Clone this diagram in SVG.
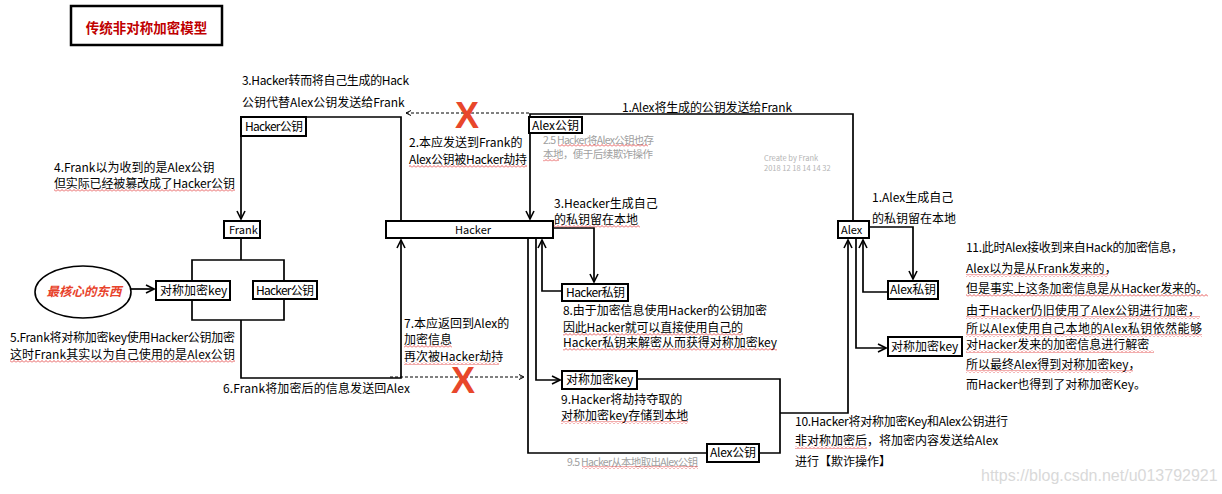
<svg xmlns="http://www.w3.org/2000/svg" width="1222" height="494" viewBox="0 0 1222 494">
<defs>
<style>
text{font-family:"Noto Sans CJK SC","Noto Sans",sans-serif;font-size:12px;fill:#000}
.s{font-size:11px}
.g{fill:#a0a0a0;font-size:10.5px}
.cb{fill:#b4b4b4;font-size:7.5px}
.title{font-size:13.5px;font-weight:bold;fill:#c00000}
.core{font-size:12.5px;font-weight:bold;font-style:italic;fill:#e8432c}
.x{font-family:"Liberation Sans",Arial,sans-serif;font-size:36px;font-weight:bold;fill:#e8472b}
.wm{font-family:"Liberation Sans",Arial,sans-serif;font-size:16px;fill:#d9d9d9}
.box{fill:#fff;stroke:#000;stroke-width:2}
.ln{fill:none;stroke:#000;stroke-width:1.7}
.dash{fill:none;stroke:#000;stroke-width:1;stroke-dasharray:3 2}
.sq{fill:url(#sq)}
</style>
<marker id="ah" markerWidth="10" markerHeight="10" refX="9" refY="5" orient="auto" markerUnits="userSpaceOnUse">
<path d="M1,1 L9,5 L1,9" fill="none" stroke="#000" stroke-width="1.6"/>
</marker>
<marker id="ahs" markerWidth="8" markerHeight="8" refX="6" refY="4" orient="auto" markerUnits="userSpaceOnUse">
<path d="M1,1.5 L6,4 L1,6.5" fill="none" stroke="#000" stroke-width="1"/>
</marker>
<pattern id="sq" width="4" height="3" patternUnits="userSpaceOnUse">
<path d="M0,2.5 L2,0.5 L4,2.5" fill="none" stroke="#e03030" stroke-width="0.8"/>
</pattern>
</defs>
<rect width="1222" height="494" fill="#fff"/>

<g id="title">
<rect x="71" y="6" width="151" height="39" fill="#fff" stroke="#000" stroke-width="2.5"/>
<text class="title" x="146.5" y="33" text-anchor="middle">传统非对称加密模型</text>
</g>

<g id="connectors">
<path class="ln" d="M853,221 V114 H530 V219" marker-end="url(#ah)"/>
<path class="dash" d="M529,113 H406" marker-end="url(#ahs)"/>
<path class="ln" d="M401,221 V117 H241 V219" marker-end="url(#ah)"/>
<path class="ln" d="M241,238 V260"/>
<path class="ln" d="M192,260 H284 V320 H192 Z"/>
<path class="ln" d="M241,320 V378 H401 V240" marker-end="url(#ah)"/>
<path class="ln" d="M131,289 H154" marker-end="url(#ah)"/>
<path class="dash" d="M390,377 H524" marker-end="url(#ahs)"/>
<path class="ln" d="M553,228 H594 V282" marker-end="url(#ah)"/>
<path class="ln" d="M562,291 H542 V240" marker-end="url(#ah)"/>
<path class="ln" d="M536,238 V380 H560" marker-end="url(#ah)"/>
<path class="ln" d="M528,238 V453 H707"/>
<path class="ln" d="M637,379 H780 V453 H759"/>
<path class="ln" d="M780,413 H848 V240" marker-end="url(#ah)"/>
<path class="ln" d="M869,227 H913 V279" marker-end="url(#ah)"/>
<path class="ln" d="M888,292 H863 V240" marker-end="url(#ah)"/>
<path class="ln" d="M856,238 V348 H886" marker-end="url(#ah)"/>
</g>

<g id="frank">
<rect class="box" x="224" y="221" width="36" height="17"/>
<text class="s" x="229" y="234">Frank</text>
</g>
<g id="hacker">
<rect class="box" x="386" y="221" width="167" height="17"/>
<text class="s" x="473" y="234" text-anchor="middle">Hacker</text>
</g>
<g id="alex">
<rect class="box" x="838" y="221" width="31" height="17"/>
<text class="s" x="841" y="234">Alex</text>
</g>
<g id="hacker-pubkey-top">
<rect class="box" x="241" y="117" width="65" height="19"/>
<text x="245" y="131" textLength="58">Hacker公钥</text>
</g>
<g id="alex-pubkey-top">
<rect class="box" x="529" y="117" width="53" height="16"/>
<text x="532" y="130" textLength="47">Alex公钥</text>
</g>
<g id="core">
<ellipse cx="83" cy="292" rx="48" ry="26" fill="#fff" stroke="#000" stroke-width="1.6"/>
<text class="core" x="84" y="296" text-anchor="middle">最核心的东西</text>
</g>
<g id="frank-symkey">
<rect class="box" x="156" y="281" width="74" height="19"/>
<text x="160" y="295">对称加密key</text>
</g>
<g id="frank-hackerkey">
<rect class="box" x="253" y="281" width="64" height="18"/>
<text x="256" y="295" textLength="58">Hacker公钥</text>
</g>
<g id="hacker-privkey">
<rect class="box" x="562" y="284" width="66" height="17"/>
<text x="566" y="297" textLength="59">Hacker私钥</text>
</g>
<g id="hacker-symkey">
<rect class="box" x="562" y="371" width="75" height="18"/>
<text x="566" y="384">对称加密key</text>
</g>
<g id="hacker-alexpub">
<rect class="box" x="707" y="444" width="52" height="18"/>
<text x="710" y="457" textLength="46">Alex公钥</text>
</g>
<g id="alex-privkey">
<rect class="box" x="888" y="281" width="50" height="18"/>
<text x="890" y="294" textLength="46">Alex私钥</text>
</g>
<g id="alex-symkey">
<rect class="box" x="888" y="337" width="74" height="19"/>
<text x="891" y="351">对称加密key</text>
</g>

<g id="marks">
<text class="x" x="467" y="128" text-anchor="middle">X</text>
<text class="x" x="463" y="393" text-anchor="middle">X</text>
</g>

<g id="labels">
<text x="242" y="85" textLength="167">3.Hacker转而将自己生成的Hack</text>
<text x="242" y="107">公钥代替Alex公钥发送给Frank</text>
<text x="54" y="172">4.Frank以为收到的是Alex公钥</text>
<text x="54" y="188" textLength="181">但实际已经被篡改成了Hacker公钥</text>
<text x="622" y="112" textLength="170">1.Alex将生成的公钥发送给Frank</text>
<text x="409" y="147">2.本应发送到Frank的</text>
<text x="409" y="164" textLength="118">Alex公钥被Hacker劫持</text>
<text class="g" x="543" y="143.5" textLength="111">2.5 Hacker将Alex公钥也存</text>
<text class="g" x="543" y="158" textLength="110">本地，便于后续欺诈操作</text>
<text class="cb" x="764" y="160.5">Create by Frank</text>
<text class="cb" x="764" y="170.5">2018 12 18 14 14 32</text>
<text x="554" y="208">3.Heacker生成自己</text>
<text x="554" y="224">的私钥留在本地</text>
<text x="872" y="202">1.Alex生成自己</text>
<text x="872" y="223">的私钥留在本地</text>
<text x="10" y="342" textLength="225">5.Frank将对称加密key使用Hacker公钥加密</text>
<text x="10" y="359" textLength="225">这时Frank其实以为自己使用的是Alex公钥</text>
<text x="223" y="393" textLength="187">6.Frank将加密后的信息发送回Alex</text>
<text x="404" y="328">7.本应返回到Alex的</text>
<text x="404" y="344">加密信息</text>
<text x="404" y="361">再次被Hacker劫持</text>
<text x="563" y="315" textLength="204">8.由于加密信息使用Hacker的公钥加密</text>
<text x="563" y="332" textLength="180">因此Hacker就可以直接使用自己的</text>
<text x="563" y="347" textLength="214">Hacker私钥来解密从而获得对称加密key</text>
<text x="561" y="404">9.Hacker将劫持夺取的</text>
<text x="561" y="420">对称加密key存储到本地</text>
<text class="g" x="567" y="465.5" textLength="131">9.5 Hacker从本地取出Alex公钥</text>
<text x="795" y="426" textLength="213">10.Hacker将对称加密Key和Alex公钥进行</text>
<text x="795" y="445">非对称加密后，将加密内容发送给Alex</text>
<text x="795" y="466">进行【欺诈操作】</text>
<text x="966" y="252" textLength="217">11.此时Alex接收到来自Hack的加密信息，</text>
<text x="966" y="273">Alex以为是从Frank发来的，</text>
<text x="966" y="293" textLength="242">但是事实上这条加密信息是从Hacker发来的。</text>
<text x="966" y="315" textLength="234">由于Hacker仍旧使用了Alex公钥进行加密，</text>
<text x="966" y="333" textLength="236">所以Alex使用自己本地的Alex私钥依然能够</text>
<text x="966" y="349">对Hacker发来的加密信息进行解密</text>
<text x="966" y="369">所以最终Alex得到对称加密key，</text>
<text x="966" y="389">而Hacker也得到了对称加密Key。</text>
<text class="wm" x="981" y="481">https://blog.csdn.net/u013792921</text>
</g>

<g id="squiggles">
<rect class="sq" x="54" y="189" width="181" height="3"/>
<rect class="sq" x="409" y="165" width="118" height="3"/>
<rect class="sq" x="558" y="144" width="90" height="3"/>
<rect class="sq" x="543" y="158.5" width="16" height="3"/>
<rect class="sq" x="554" y="225" width="86" height="3"/>
<rect class="sq" x="10" y="360" width="225" height="3"/>
<rect class="sq" x="404" y="345" width="48" height="3"/>
<rect class="sq" x="404" y="362" width="95" height="3"/>
<rect class="sq" x="563" y="333" width="180" height="3"/>
<rect class="sq" x="563" y="348" width="214" height="3"/>
<rect class="sq" x="561" y="421" width="127" height="3"/>
<rect class="sq" x="582" y="466" width="116" height="3"/>
<rect class="sq" x="795" y="446" width="72" height="3"/>
<rect class="sq" x="966" y="274" width="142" height="3"/>
<rect class="sq" x="966" y="294" width="242" height="3"/>
<rect class="sq" x="966" y="316" width="234" height="3"/>
<rect class="sq" x="966" y="334" width="236" height="3"/>
<rect class="sq" x="966" y="350" width="188" height="3"/>
<rect class="sq" x="966" y="370" width="167" height="3"/>
</g>
</svg>
